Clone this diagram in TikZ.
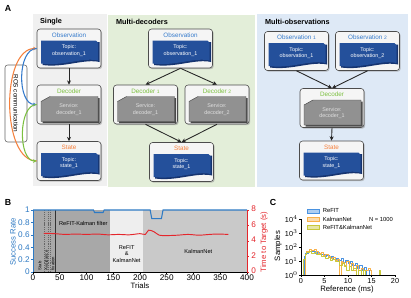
\documentclass[tikz,border=0pt]{standalone}
\usepackage{fontspec}
\setmainfont{Liberation Sans}
\usetikzlibrary{arrows.meta, positioning, calc, shadows}
\definecolor{cTopic}{RGB}{36,80,155}
\definecolor{cTopicDk}{RGB}{22,52,112}
\definecolor{cSrv}{RGB}{145,145,145}
\definecolor{cSrvDk}{RGB}{72,72,72}
\definecolor{cObs}{RGB}{52,122,204}
\definecolor{cDec}{RGB}{124,192,64}
\definecolor{cSt}{RGB}{245,128,60}
\definecolor{cBgSingle}{RGB}{240,240,240}
\definecolor{cBgDec}{RGB}{227,238,217}
\definecolor{cBgObs}{RGB}{222,233,246}
\definecolor{cRate}{RGB}{46,122,196}
\definecolor{cTime}{RGB}{228,38,44}
\definecolor{cRegA}{RGB}{168,168,168}
\definecolor{cRegB}{RGB}{238,238,238}
\definecolor{cRegC}{RGB}{201,201,201}
\definecolor{cHistA}{RGB}{74,146,224}
\definecolor{cHistB}{RGB}{248,176,72}
\definecolor{cHistC}{RGB}{200,200,60}
\tikzset{
	comp/.style     ={rectangle, rounded corners=0.9mm, draw=black!70, line width=0.5pt, fill=black!4, minimum width=19.2mm, minimum height=11.7mm, drop shadow={shadow xshift=0.35mm, shadow yshift=-0.35mm, fill=black!45}},
	ctitle/.style   ={font=\fontsize{5.4}{6}\selectfont},
	ctext/.style    ={font=\fontsize{4.6}{5.6}\selectfont, align=center},
	ptitle/.style   ={font=\fontsize{6.2}{7}\selectfont\bfseries, anchor=west},
	plabel/.style   ={font=\fontsize{7.5}{8}\selectfont\bfseries},
	flow/.style     ={-{Stealth[length=1.3mm, width=1.2mm]}, line width=0.75pt, black!85},
	rosbox/.style   ={rectangle, rounded corners=0.8mm, draw=black!60, fill=white, line width=0.5pt, rotate=-90, minimum width=23.1mm, minimum height=6.6mm, font=\fontsize{5.4}{6}\selectfont},
	roslink/.style  ={line width=0.9pt, -{Stealth[length=1.1mm, width=1.1mm]}},
	% plot styles
	ticklbl/.style  ={font=\fontsize{7}{8}\selectfont, inner sep=0.4pt},
	ticklblC/.style ={font=\fontsize{6.2}{7}\selectfont, inner sep=0.4pt},
	axlbl/.style    ={font=\fontsize{6.6}{7.5}\selectfont},
	regtext/.style  ={font=\fontsize{4.8}{5.6}\selectfont, align=center},
	vtext/.style    ={font=\fontsize{3.6}{4.2}\selectfont, rotate=90, anchor=west, inner sep=0.3pt},
	phase/.style    ={black!60, dash pattern=on 1pt off 0.8pt, line width=0.4pt},
	legbox/.style   ={rectangle, minimum width=3.6mm, minimum height=1.1mm, inner sep=0pt, line width=0.5pt},
	legtext/.style  ={font=\fontsize{5}{6}\selectfont, anchor=west, inner sep=0.5pt},
	hist/.style     ={line width=0.7pt, line join=round},
}
% component with a topic inside: name, cx, cy, title, title colour, topic
\newcommand{\topicbox}[6]{%
	\node[comp] (#1) at (#2,#3) {};
	\begin{scope}[shift={(#2,#3)}]
		\fill[cTopicDk] (-26.5,-6.5) -- (30.5,-6.5) -- (30.5,13.5) .. controls (15,10) and (-5,19.5) .. (-26.5,16.5) -- cycle;
		\fill[cTopic] (-28,-8) -- (27,-8) -- (29,-6) -- (29,12) .. controls (14,8.5) and (-6,18) .. (-28,15) -- cycle;
		\node[ctitle, text=#5] at (0,-13.5) {#4};
		\node[ctext, text=white] at (0,2) {Topic:\\#6};
	\end{scope}}
% component with a service inside: name, cx, cy, title, service
\newcommand{\servicebox}[5]{%
	\node[comp] (#1) at (#2,#3) {};
	\begin{scope}[shift={(#2,#3)}]
		\fill[cSrvDk] (-26.5,-1.5) -- (-17.5,-6.5) -- (30.5,-6.5) -- (30.5,18.5) -- (-26.5,18.5) -- cycle;
		\filldraw[fill=cSrv, draw=cSrvDk, line width=0.4pt] (-28,-3) -- (-19,-8) -- (29,-8) -- (29,17) -- (-28,17) -- cycle;
		\node[ctitle, text=cDec] at (0,-13.5) {#4};
		\node[ctext, text=white!88!black] at (0,5) {Service:\\#5};
	\end{scope}}

\begin{document}
\begin{tikzpicture}[x=0.3mm, y=-0.3mm]
	\fill[white] (0,0) rectangle (411,297);
	\useasboundingbox (0,0) rectangle (411,297);

	% ---------- A ----------
	\node[plabel] at (8,8) {A};
	\fill[cBgSingle] (33,14) rectangle (107,186);
	\fill[cBgDec] (108,15) rectangle (255,187);
	\fill[cBgObs] (257,14) rectangle (408,187);
	\node[ptitle] at (36,22) {Single};
	\node[ptitle] at (112,22) {Multi-decoders};
	\node[ptitle] at (261,22) {Multi-observations};

	% single
	\topicbox{obsS}{69}{48.5}{Observation}{cObs}{observation\_1}
	\servicebox{decS}{69}{104.5}{Decoder}{decoder\_1}
	\topicbox{stS}{69}{161}{State}{cSt}{state\_1}
	\draw[flow] (obsS.south) -- (decS.north);
	\draw[flow] (decS.south) -- (stS.north);

	% ros communication
	\node[rosbox] (ros) at (16,103.5) {ROS communication};
	\draw[roslink, cSt] (stS.west) .. controls (1,161) and (1,48.5) .. (obsS.west);
	\draw[roslink, cObs] (obsS.west) .. controls (17,48.5) and (17,104.5) .. (decS.west);
	\draw[roslink, cDec] (decS.west) .. controls (18,104.5) and (18,161) .. (stS.west);

	% multi-decoders
	\topicbox{obsM}{180.5}{48.5}{Observation}{cObs}{observation\_1}
	\servicebox{decM1}{145.5}{104.5}{Decoder {\fontsize{4.2}{5}\selectfont 1}}{decoder\_1}
	\servicebox{decM2}{217}{104.5}{Decoder {\fontsize{4.2}{5}\selectfont 2}}{decoder\_2}
	\topicbox{stM}{181.5}{162}{State}{cSt}{state\_1}
	\draw[flow] (obsM.south) -- (decM1.north);
	\draw[flow] (obsM.south) -- (decM2.north);
	\draw[flow] (decM1.south) -- (stM.north);
	\draw[flow] (decM2.south) -- (stM.north);

	% multi-observations
	\topicbox{obsO1}{296.5}{51}{Observation {\fontsize{4.2}{5}\selectfont 1}}{cObs}{observation\_1}
	\topicbox{obsO2}{367.5}{51}{Observation {\fontsize{4.2}{5}\selectfont 2}}{cObs}{observation\_2}
	\servicebox{decO}{332}{108}{Decoder}{decoder\_1}
	\topicbox{stO}{331.5}{160.5}{State}{cSt}{state\_1}
	\draw[flow] (obsO1.south) -- (decO.north);
	\draw[flow] (obsO2.south) -- (decO.north);
	\draw[flow] (decO.south) -- (stO.north);

	% ---------- B ----------
	\node[plabel] at (8,202) {B};
	\begin{scope}[shift={(33,272)}, x=0.1605mm, y=18.6mm]
		\fill[cRegA] (0,0) rectangle (144,1);
		\fill[cRegB] (144,0) rectangle (206,1);
		\fill[cRegC] (206,0) rectangle (400,1);
		\foreach \t in {21,28,32} \draw[phase] (\t,0) -- (\t,1);
		\draw[black!80, line width=0.5pt] (41,0) -- (41,1);
		\node[vtext] at (13,0.02) {Stab};
		\node[vtext] at (25,0.02) {Avoidance};
		\node[vtext] at (37,0.02) {fixation};
		\node[regtext, anchor=west] at (41,0.78) {ReFIT-Kalman filter};
		\node[regtext] at (175,0.29) {ReFIT\\\&\\KalmanNet};
		\node[regtext] at (309,0.33) {KalmanNet};
		% success rate
		\draw[cRate, line width=0.9pt] (0,1) -- (113,1) -- (115,0.96) -- (131,0.96) -- (133,1) -- (219,1) -- (222,0.86) -- (240,0.86) -- (243,1) -- (400,1);
		\draw[cRate, line width=0.5pt] (0,0) -- (0,1);
		\foreach \v in {0,0.2,0.4,0.6,0.8,1} {
			\draw[cRate, line width=0.5pt] (0,\v) -- ++(-0.6mm,0);
			\node[ticklbl, text=cRate, anchor=east] at ([xshift=-0.8mm]0,\v) {\v};
		}
		% trials axis
		\draw[line width=0.5pt] (0,0) -- (400,0);
		\foreach \t in {0,50,...,400} {
			\draw[line width=0.5pt] (\t,0) -- ++(0,-0.6mm);
			\node[ticklbl, anchor=north] at ([yshift=-0.7mm]\t,0) {\t};
		}
	\end{scope}
	\begin{scope}[shift={(33,272)}, x=0.1605mm, y=2.325mm]
		\draw[cTime, line width=0.8pt] plot[smooth] coordinates {(20,5.0) (40,4.95) (60,4.85) (80,4.9) (100,4.85) (120,4.9) (140,4.8) (160,4.85) (180,4.8) (200,4.95) (210,4.85) (216,5.4) (226,5.2) (236,4.75) (250,4.7) (270,4.75) (290,4.85) (310,4.75) (330,4.85) (345,4.9) (365,4.85)};
		\draw[cTime, line width=0.5pt] (400,0) -- (400,8);
		\foreach \v in {0,2,4,6,8} {
			\draw[cTime, line width=0.5pt] (400,\v) -- ++(0.6mm,0);
			\node[ticklbl, text=cTime, anchor=west] at ([xshift=1.1mm, yshift=0.3mm]400,\v) {\v};
		}
	\end{scope}
	\node[axlbl, text=cRate, rotate=90] at (13,242) {Success Rate};
	\node[axlbl, text=cTime, rotate=90] at (264,242) {Time to Target (s)};
	\node[axlbl] at (140,286) {Trials};

	% ---------- C ----------
	\node[plabel] at (273,202) {C};
	\begin{scope}[shift={(301,275)}, x=1.41mm, y=4.2mm]
		\draw[hist, cHistA] plot[const plot] coordinates {(0.6,0) (0.75,1.3) (1.0,1.55) (1.5,1.7) (2.0,1.65) (2.5,1.7) (3.0,1.55) (3.5,1.6) (4.0,1.45) (4.5,1.5) (5.0,1.35) (5.5,1.4) (6.0,1.25) (6.5,1.3) (7.0,1.1) (7.5,1.2) (8.0,1.05) (8.5,1.15) (9.0,0.9) (9.5,1.05) (10.0,0.8) (10.5,0.95) (11.0,0.7) (11.5,0.85) (12.0,0.5) (12.5,0.65) (13.0,0.3) (13.5,0.55) (14.0,0) (14.5,0.3) (15.0,0)};
		\draw[hist, cHistB] plot[const plot] coordinates {(0.7,0) (0.9,1.45) (1.25,1.7) (1.75,1.85) (2.25,1.75) (2.75,1.8) (3.25,1.65) (3.75,1.55) (4.25,1.6) (4.75,1.4) (5.25,1.45) (5.75,1.3) (6.25,1.2) (6.75,1.25) (7.25,1.05) (7.75,1.1) (8.25,0) (8.5,1.0) (8.75,0.9) (9.25,0.7) (9.75,0.95) (10.25,0.6) (10.75,0.8) (11.25,0.3) (11.75,0.7) (12.25,0.3) (12.75,0.5) (13.25,0) (13.75,0.3) (14.25,0.5) (14.75,0.3) (15.0,0)};
		\draw[hist, cHistC] plot[const plot] coordinates {(0.5,0) (0.6,1.1) (0.9,1.5) (1.25,1.6) (1.75,1.65) (2.25,1.55) (2.75,1.6) (3.25,1.45) (3.75,1.5) (4.25,1.3) (4.75,1.35) (5.25,1.2) (5.75,1.25) (6.25,1.05) (6.75,1.1) (7.25,0.95) (7.75,1.0) (8.25,0.7) (8.75,0.85) (9.25,0.6) (9.75,0.3) (10.25,0.6) (10.75,0.3) (11.25,0.45) (11.75,0) (12.25,0.3) (12.75,0) (13.25,0.3) (13.75,0) (16.75,0.3) (17.0,0)};
		\draw[line width=0.5pt] (0,0) -- (20,0);
		\draw[line width=0.5pt] (0,0) -- (0,4);
		\foreach \e in {0,...,4} {
			\draw[line width=0.5pt] (0,\e) -- ++(-0.6mm,0);
			\node[ticklblC, anchor=east] at ([xshift=-0.8mm]0,\e) {10$^{\e}$};
		}
		\foreach \r in {0,5,10,15,20} {
			\draw[line width=0.5pt] (\r,0) -- ++(0,-0.6mm);
			\node[ticklblC, anchor=north] at ([yshift=-0.7mm]\r,0) {\r};
		}
	\end{scope}
	\node[axlbl, rotate=90] at (278,246) {Samples};
	\node[axlbl] at (347,289) {Reference (ms)};
	\node[legbox, draw=cHistA, fill=cHistA!45] (lgA) at (313,211) {};
	\node[legbox, draw=cHistB, fill=cHistB!45] (lgB) at (313,219) {};
	\node[legbox, draw=cHistC, fill=cHistC!45] (lgC) at (313,227) {};
	\node[legtext, right=0.8mm of lgA] {ReFIT};
	\node[legtext, right=0.8mm of lgB] {KalmanNet};
	\node[legtext, right=0.8mm of lgC] {ReFIT\&KalmanNet};
	\node[legtext, anchor=center] at (381,219) {N = 1000};
\end{tikzpicture}
\end{document}
